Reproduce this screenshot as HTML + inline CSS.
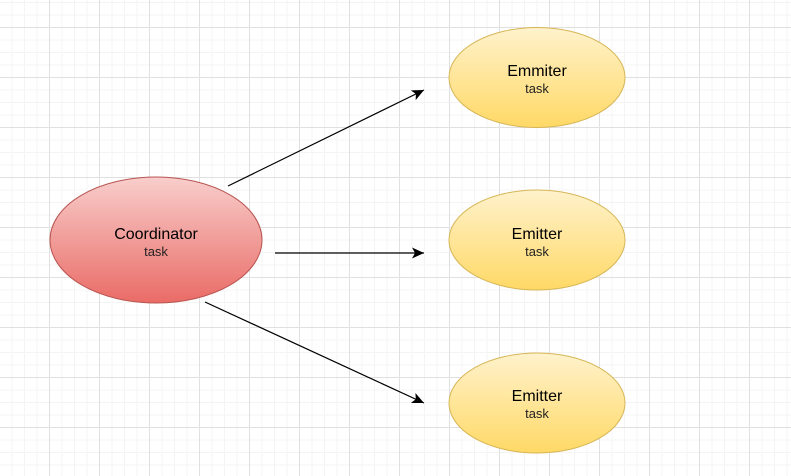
<!DOCTYPE html>
<html><head><style>
html,body{margin:0;padding:0;background:#fff;}
svg{display:block;}
text{font-family:"Liberation Sans",Arial,sans-serif;text-anchor:middle;}
</style></head><body>
<svg width="791" height="476" viewBox="0 0 791 476" xmlns="http://www.w3.org/2000/svg">
<defs>
<pattern id="minor" x="-1" y="2" width="12.5" height="12.5" patternUnits="userSpaceOnUse">
<path d="M0 0H12.5M0 0V12.5" stroke="#f4f4f4" stroke-width="1" fill="none" transform="translate(0.5,0.5)"/>
</pattern>
<pattern id="major" x="-1" y="27" width="50" height="50" patternUnits="userSpaceOnUse">
<path d="M0 0H50M0 0V50" stroke="#e0e0e0" stroke-width="1" fill="none" transform="translate(0.5,0.5)"/>
</pattern>
<linearGradient id="red" x1="0" y1="0" x2="0" y2="1">
<stop offset="0" stop-color="#f8cecc"/><stop offset="1" stop-color="#ea6b66"/>
</linearGradient>
<linearGradient id="yel" x1="0" y1="0" x2="0" y2="1">
<stop offset="0" stop-color="#fff2cc"/><stop offset="1" stop-color="#ffd966"/>
</linearGradient>
<marker id="ar" markerWidth="13" markerHeight="11" refX="12" refY="5.5" orient="auto" markerUnits="userSpaceOnUse">
<path d="M0 0L12 5.5L0 11L3 5.5Z" fill="#000"/>
</marker>
</defs>
<rect width="791" height="476" fill="url(#minor)"/>
<rect width="791" height="476" fill="url(#major)"/>

<ellipse cx="156" cy="240" rx="106" ry="63" fill="url(#red)" stroke="#b85450"/>
<text x="156" y="239" font-size="16" fill="#000">Coordinator</text>
<text x="156" y="256" font-size="13" fill="#222">task</text>

<ellipse cx="537" cy="77.5" rx="88" ry="50" fill="url(#yel)" stroke="#d6b656"/>
<text x="537" y="76" font-size="16" fill="#000">Emmiter</text>
<text x="537" y="93" font-size="13" fill="#222">task</text>

<ellipse cx="537" cy="240" rx="88" ry="50" fill="url(#yel)" stroke="#d6b656"/>
<text x="537" y="239" font-size="16" fill="#000">Emitter</text>
<text x="537" y="256" font-size="13" fill="#222">task</text>

<ellipse cx="537" cy="403" rx="88" ry="50" fill="url(#yel)" stroke="#d6b656"/>
<text x="537" y="401" font-size="16" fill="#000">Emitter</text>
<text x="537" y="418" font-size="13" fill="#222">task</text>

<line x1="228" y1="186" x2="424" y2="90" stroke="#000" stroke-width="1.2" marker-end="url(#ar)"/>
<line x1="275" y1="253" x2="424" y2="253" stroke="#000" stroke-width="1.2" marker-end="url(#ar)"/>
<line x1="205" y1="302" x2="424" y2="403" stroke="#000" stroke-width="1.2" marker-end="url(#ar)"/>
</svg>
</body></html>
